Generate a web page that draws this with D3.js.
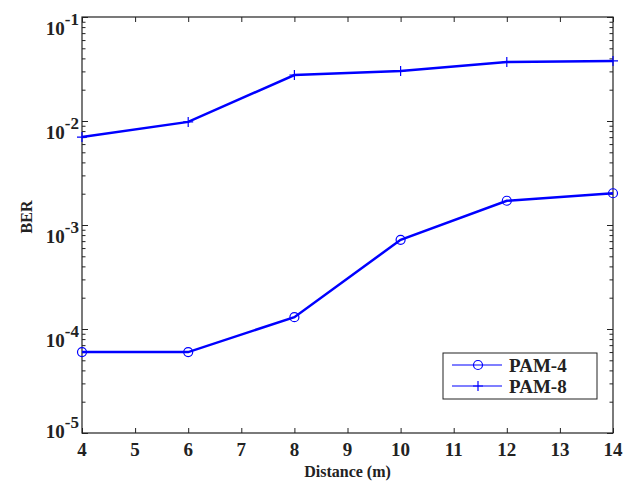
<!DOCTYPE html>
<html>
<head>
<meta charset="utf-8">
<script src="https://cdn.jsdelivr.net/npm/d3@7"></script>
<style>
  body { margin: 0; background: #fff; }
  svg { display: block; }
  text { font-family: "Liberation Serif", "Times New Roman", serif; font-weight: bold; fill: #222; }
</style>
</head>
<body>
<svg id="chart" width="635" height="485"></svg>
<script>
const width = 635;
const height = 485;

// data
const distances = [4, 6, 8, 10, 12, 14];
const pam4 = [6.0e-5, 6.0e-5, 1.30e-4, 7.2e-4, 1.71e-3, 2.02e-3];
const pam8 = [7.0e-3, 9.8e-3, 2.77e-2, 3.03e-2, 3.69e-2, 3.78e-2];
const xTicks = [4, 5, 6, 7, 8, 9, 10, 11, 12, 13, 14];
const yExponents = [-1, -2, -3, -4, -5];
const seriesNames = ["PAM-4", "PAM-8"];

const margin = { top: 17, right: 22, bottom: 52, left: 82 };
const svg = d3.select("#chart");

const x = d3.scaleLinear()
    .domain([4, 14])
    .range([margin.left, width - margin.right]);

const y = d3.scaleLog()
    .domain([1e-5, 1e-1])
    .range([height - margin.bottom, margin.top]);

// minor ticks for log axis (2..9 in each decade)
const minorTicks = [];
for (let e = -5; e < -1; e++) {
    for (let m = 2; m <= 9; m++) minorTicks.push(m * Math.pow(10, e));
}
const majorTicks = yExponents.map(e => Math.pow(10, e));

const axisColor = "#222";

function styleAxis(g) {
    g.select(".domain").remove();
    g.selectAll("line").attr("stroke", axisColor).attr("stroke-width", 1);
}

// x ticks bottom + top (pointing inward)
svg.append("g")
    .attr("transform", `translate(0,${height - margin.bottom})`)
    .call(d3.axisBottom(x).tickValues(xTicks).tickSize(-5).tickFormat(""))
    .call(styleAxis);
svg.append("g")
    .attr("transform", `translate(0,${margin.top})`)
    .call(d3.axisTop(x).tickValues(xTicks).tickSize(-5).tickFormat(""))
    .call(styleAxis);

// y ticks left + right, major and minor
[["left", margin.left], ["right", width - margin.right]].forEach(([side, pos]) => {
    const mk = side === "left" ? d3.axisLeft : d3.axisRight;
    svg.append("g")
        .attr("transform", `translate(${pos},0)`)
        .call(mk(y).tickValues(majorTicks).tickSize(-6).tickFormat(""))
        .call(styleAxis);
    svg.append("g")
        .attr("transform", `translate(${pos},0)`)
        .call(mk(y).tickValues(minorTicks).tickSize(-3.5).tickFormat(""))
        .call(styleAxis);
});

// box
svg.append("rect")
    .attr("x", margin.left)
    .attr("y", margin.top)
    .attr("width", width - margin.left - margin.right)
    .attr("height", height - margin.top - margin.bottom)
    .attr("fill", "none")
    .attr("stroke", axisColor)
    .attr("stroke-width", 1.2);

// x tick labels
svg.selectAll(".xlabel")
    .data(xTicks)
    .join("text")
    .attr("class", "xlabel")
    .attr("x", d => x(d))
    .attr("y", 456)
    .attr("text-anchor", "middle")
    .attr("font-size", "19px")
    .text(d => d);

// y tick labels 10^e
const yl = svg.selectAll(".ylabel")
    .data(yExponents)
    .join("text")
    .attr("class", "ylabel")
    .attr("text-anchor", "end")
    .attr("x", 79)
    .attr("y", d => y(Math.pow(10, d)) + (d === -5 ? 5 : 18))
    .attr("font-size", "19px");
yl.append("tspan").text("10");
yl.append("tspan")
    .attr("dy", -10)
    .attr("font-size", "17px")
    .text(d => String(d));

// axis titles
svg.append("text")
    .attr("x", (margin.left + width - margin.right) / 2)
    .attr("y", 477)
    .attr("text-anchor", "middle")
    .attr("font-size", "16px")
    .text("Distance (m)");

svg.append("text")
    .attr("transform", `translate(32,217) rotate(-90)`)
    .attr("text-anchor", "middle")
    .attr("font-size", "16px")
    .text("BER");

// lines
const line = d3.line()
    .x(d => x(d[0]))
    .y(d => y(d[1]));

const blue = "#0000ff";
const series = [
    { name: seriesNames[0], values: distances.map((d, i) => [d, pam4[i]]), marker: "circle" },
    { name: seriesNames[1], values: distances.map((d, i) => [d, pam8[i]]), marker: "plus" }
];

function drawMarker(g, type, cx, cy) {
    if (type === "circle") {
        g.append("circle")
            .attr("cx", cx).attr("cy", cy).attr("r", 4.5)
            .attr("fill", "none").attr("stroke", blue).attr("stroke-width", 1.2);
    } else {
        g.append("path")
            .attr("d", `M${cx - 5},${cy}H${cx + 5}M${cx},${cy - 5}V${cy + 5}`)
            .attr("stroke", blue).attr("stroke-width", 1.2);
    }
}

series.forEach(s => {
    svg.append("path")
        .datum(s.values)
        .attr("d", line)
        .attr("fill", "none")
        .attr("stroke", blue)
        .attr("stroke-width", 2.5);
    const mg = svg.append("g");
    s.values.forEach(v => drawMarker(mg, s.marker, x(v[0]), y(v[1])));
});

// legend
const legend = svg.append("g");
legend.append("rect")
    .attr("x", 443).attr("y", 353)
    .attr("width", 154).attr("height", 46)
    .attr("fill", "#fff")
    .attr("stroke", axisColor)
    .attr("stroke-width", 1);

series.forEach((s, i) => {
    const ly = 365 + i * 21;
    legend.append("line")
        .attr("x1", 452).attr("x2", 502)
        .attr("y1", ly).attr("y2", ly)
        .attr("stroke", blue).attr("stroke-width", 1.2);
    drawMarker(legend, s.marker, 478, ly);
    legend.append("text")
        .attr("x", 509)
        .attr("y", ly + 7)
        .attr("font-size", "19px")
        .text(s.name);
});
</script>
</body>
</html>
